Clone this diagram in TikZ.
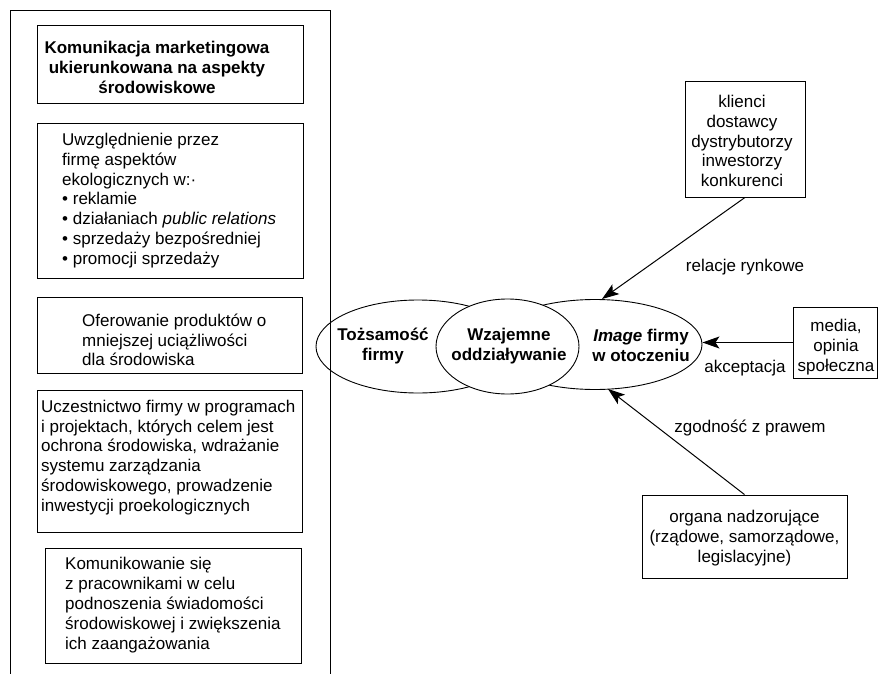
\documentclass[tikz,border=0pt]{standalone}
\usepackage{fontspec}
\setmainfont{Liberation Sans}
\usetikzlibrary{shapes.geometric,arrows.meta}
\begin{document}
\begin{tikzpicture}[x=1pt,y=-1pt,
  every node/.style={font=\fontsize{17}{19.8}\selectfont},
  box/.style={draw, line width=0.9pt, rectangle, inner sep=0pt},
  txt/.style={inner sep=0pt, align=left, anchor=west},
  bftxt/.style={inner sep=0pt, align=center, font=\fontsize{17}{20}\selectfont\bfseries},
  ctxt/.style={inner sep=0pt, align=center},
  ell/.style={draw, line width=0.9pt, ellipse, inner sep=0pt},
  arr/.style={line width=1pt, -{Stealth[length=17pt,width=12pt,inset=4pt]}},
  lbl/.style={inner sep=0pt}]
\useasboundingbox (0,0) rectangle (878,674);

% outer frame (open at the bottom)
\draw[line width=0.9pt] (10,674) -- (10,10) -- (330,10) -- (330,674);

% left boxes
\node[box, minimum width=266pt, minimum height=78pt] (b1) at (170,64) {};
\node[bftxt] (t1) at (157,67) {Komunikacja marketingowa\\ukierunkowana na aspekty\\środowiskowe};

\node[box, minimum width=266pt, minimum height=155pt] (b2) at (170,200.5) {};
\node[txt] (t2) at (62,200.5) {Uwzględnienie przez\\firmę aspektów\\ekologicznych w:·\\• reklamie\\• działaniach \textit{public relations}\\• sprzedaży bezpośredniej\\• promocji sprzedaży};

\node[box, minimum width=265pt, minimum height=76pt] (b3) at (169.5,335) {};
\node[txt] (t3) at (82,340) {Oferowanie produktów o\\mniejszej uciążliwości\\dla środowiska};

\node[box, minimum width=265pt, minimum height=142pt] (b4) at (169.5,461) {};
\node[txt] (t4) at (41,457.5) {Uczestnictwo firmy w programach\\i projektach, których celem jest\\ochrona środowiska, wdrażanie\\systemu zarządzania\\środowiskowego, prowadzenie\\inwestycji proekologicznych};

\node[box, minimum width=256pt, minimum height=115pt] (b5) at (173,605.5) {};
\node[txt] (t5) at (65,605) {Komunikowanie się\\z pracownikami w celu\\podnoszenia świadomości\\środowiskowej i zwiększenia\\ich zaangażowania};

% ellipses
\node[ell, minimum width=204pt, minimum height=93pt] (L) at (418,346.5) {};
\node[ell, minimum width=214pt, minimum height=90pt] (R) at (595,344.5) {};
\node[ell, fill=white, minimum width=143pt, minimum height=95pt] (M) at (507.5,346.5) {};
\node[bftxt] (tL) at (383,346) {Tożsamość\\firmy};
\node[bftxt] (tM) at (509,346) {Wzajemne\\oddziaływanie};
\node[bftxt] (tR) at (641,345) {\textit{Image} firmy\\w otoczeniu};

% right boxes
\node[box, minimum width=120pt, minimum height=116pt] (A) at (745,139) {};
\node[ctxt] (tA) at (742,141) {klienci\\dostawcy\\dystrybutorzy\\inwestorzy\\konkurenci};
\node[box, minimum width=84pt, minimum height=71pt] (B) at (835,342.5) {};
\node[ctxt] (tB) at (836,347) {media,\\opinia\\społeczna};
\node[box, minimum width=205pt, minimum height=83pt] (C) at (744.5,536.5) {};
\node[ctxt] (tC) at (744.5,538) {organa nadzorujące\\(rządowe, samorządowe,\\legislacyjne)};

% arrows
\coordinate (rtop) at (602,299);
\coordinate (rbot) at (608,389);
\draw[arr] (A.south) -- (rtop);
\draw[arr] (B.west) -- (B.west -| R.east);
\draw[arr] (C.north) -- (rbot);

% labels
\node[lbl] (l1) at (745,267) {relacje rynkowe};
\node[lbl] (l2) at (745,368) {akceptacja};
\node[lbl] (l3) at (750,428) {zgodność z prawem};
\end{tikzpicture}
\end{document}
